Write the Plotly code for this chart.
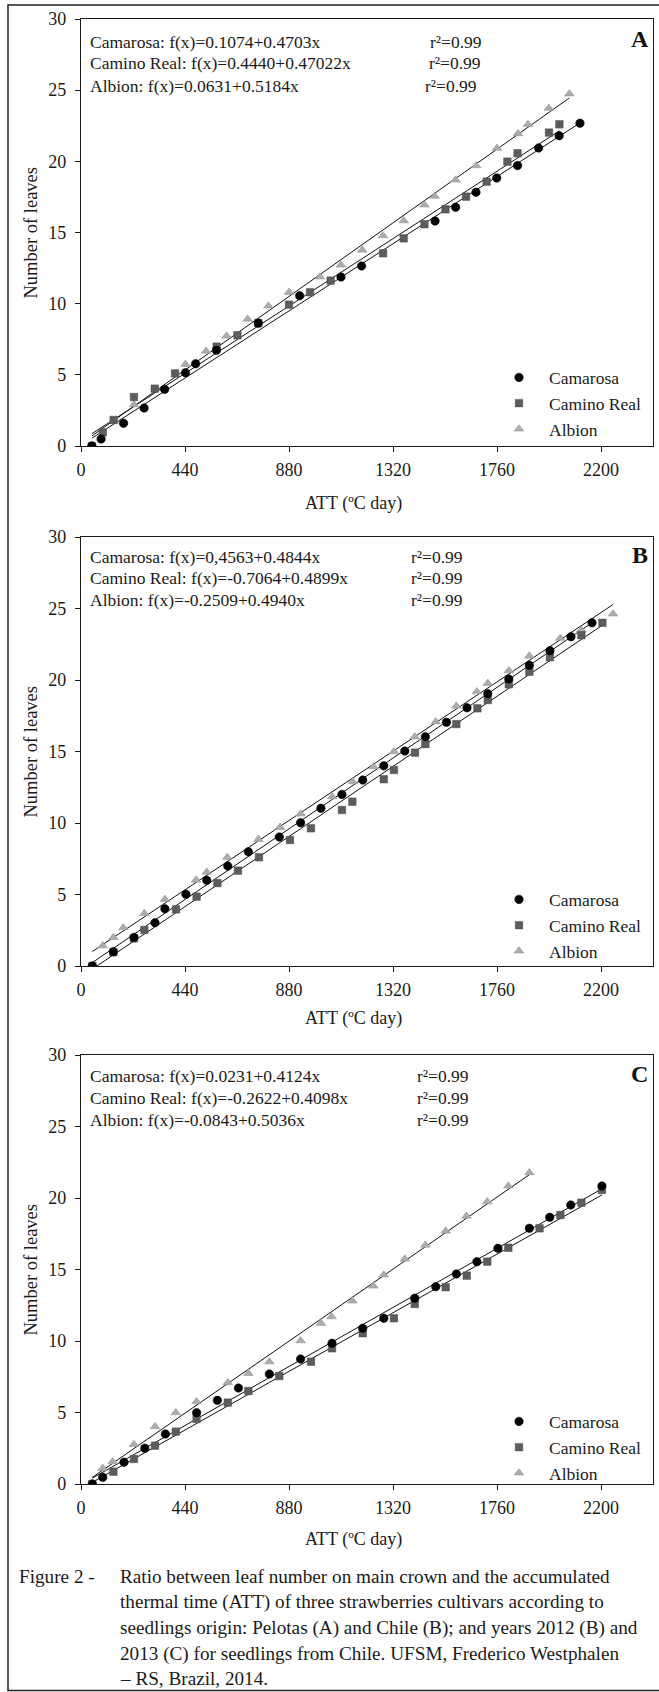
import numpy as np
import plotly.graph_objects as go

W, H = 659, 1692
FONT = "Liberation Serif, Times New Roman, serif"

# ---------------- data (ATT in degC day, number of leaves) ----------------
# Panel A
a_cam_x = [46, 85, 180, 267, 354, 442, 485, 573, 750, 925, 1100, 1187, 1498, 1585, 1671, 1759, 1847, 1936, 2023, 2111]
a_cam_y = [0, 0.49, 1.6, 2.67, 3.98, 5.15, 5.78, 6.72, 8.62, 10.56, 11.87, 12.65, 15.8, 16.77, 17.83, 18.83, 19.7, 20.94, 21.8, 22.68]
a_cr_x = [46, 92, 138, 224, 312, 398, 574, 662, 750, 880, 969, 1056, 1278, 1365, 1453, 1542, 1629, 1716, 1804, 1847, 1980, 2024]
a_cr_y = [0, 0.96, 1.83, 3.44, 4.03, 5.1, 6.98, 7.78, 8.65, 9.93, 10.8, 11.62, 13.54, 14.59, 15.58, 16.63, 17.52, 18.57, 19.98, 20.57, 22.02, 22.6]
a_alb_x = [46, 138, 224, 442, 529, 616, 705, 793, 880, 1011, 1100, 1190, 1278, 1365, 1453, 1496, 1585, 1672, 1760, 1849, 1891, 1979, 2066]
a_alb_y = [0, 1.8, 2.9, 5.74, 6.67, 7.73, 8.92, 9.84, 10.8, 11.88, 12.72, 13.77, 14.78, 15.83, 16.94, 17.55, 18.69, 19.7, 20.92, 21.95, 22.6, 23.73, 24.74]

# Panel B
b_cam_x = [48, 137, 224, 313, 355, 444, 532, 621, 708, 839, 929, 1015, 1104, 1192, 1281, 1370, 1457, 1546, 1633, 1721, 1810, 1897, 1984, 2073, 2162]
b_cam_y = [0, 1.0, 2.0, 3.03, 4.0, 5.01, 5.99, 6.99, 7.99, 9.02, 10.02, 11.03, 12.0, 13.0, 14.0, 15.03, 16.03, 17.04, 18.06, 19.04, 20.07, 21.03, 22.05, 23.03, 24.0]
b_cr_x = [48, 137, 224, 268, 402, 489, 577, 664, 753, 884, 973, 1104, 1148, 1281, 1324, 1413, 1457, 1588, 1677, 1721, 1810, 1897, 1984, 2117, 2206]
b_cr_y = [0, 0.96, 1.93, 2.52, 3.96, 4.85, 5.8, 6.67, 7.6, 8.81, 9.63, 10.91, 11.49, 13.06, 13.71, 14.92, 15.52, 16.92, 18.02, 18.6, 19.7, 20.58, 21.59, 23.13, 24.0]
b_alb_x = [48, 92, 137, 179, 268, 355, 487, 532, 619, 751, 842, 929, 1063, 1150, 1237, 1324, 1412, 1501, 1588, 1675, 1721, 1810, 1897, 2028, 2117, 2251]
b_alb_y = [0, 1.42, 2.0, 2.68, 3.68, 4.66, 6.01, 6.57, 7.6, 8.86, 9.7, 10.63, 11.84, 12.89, 13.94, 14.99, 16.03, 17.08, 18.18, 19.18, 19.77, 20.65, 21.68, 22.92, 23.5, 24.62]

# Panel C
c_cam_x = [48, 92, 182, 270, 357, 489, 577, 666, 797, 929, 1062, 1192, 1281, 1412, 1501, 1588, 1675, 1764, 1897, 1983, 2072, 2204]
c_cam_y = [0, 0.47, 1.52, 2.5, 3.5, 4.99, 5.85, 6.71, 7.69, 8.74, 9.84, 10.89, 11.59, 12.99, 13.8, 14.69, 15.55, 16.48, 17.88, 18.65, 19.51, 20.84]
c_cr_x = [48, 137, 224, 313, 401, 489, 621, 708, 839, 973, 1062, 1192, 1324, 1412, 1543, 1632, 1719, 1808, 1940, 2028, 2117, 2204]
c_cr_y = [0, 0.86, 1.75, 2.68, 3.66, 4.55, 5.69, 6.5, 7.55, 8.55, 9.49, 10.54, 11.59, 12.59, 13.76, 14.57, 15.55, 16.52, 17.88, 18.81, 19.67, 20.56]
c_alb_x = [48, 92, 134, 224, 313, 401, 489, 621, 708, 797, 929, 1015, 1060, 1148, 1237, 1281, 1370, 1457, 1543, 1631, 1719, 1808, 1897]
c_alb_y = [0, 1.1, 1.56, 2.77, 4.01, 4.99, 5.76, 7.09, 7.74, 8.55, 10.02, 11.24, 11.7, 12.8, 13.85, 14.62, 15.73, 16.71, 17.69, 18.74, 19.74, 20.84, 21.77]

series_names = ["Camarosa", "Camino Real", "Albion"]
panel_letters = ["A", "B", "C"]
equations = [
    ["Camarosa: f(x)=0.1074+0.4703x", "Camino Real: f(x)=0.4440+0.47022x", "Albion: f(x)=0.0631+0.5184x"],
    ["Camarosa: f(x)=0,4563+0.4844x", "Camino Real: f(x)=-0.7064+0.4899x", "Albion: f(x)=-0.2509+0.4940x"],
    ["Camarosa: f(x)=0.0231+0.4124x", "Camino Real: f(x)=-0.2622+0.4098x", "Albion: f(x)=-0.0843+0.5036x"],
]
r2_text = "r²=0.99"
x_ticks = [0, 440, 880, 1320, 1760, 2200]
y_ticks = [0, 5, 10, 15, 20, 25, 30]
x_title = "ATT (ºC day)"
y_title = "Number of leaves"
caption_head = "Figure 2 - "
caption_lines = [
    "Ratio between leaf number on main crown and the accumulated",
    "thermal time (ATT) of three strawberries cultivars according to",
    "seedlings origin: Pelotas (A) and Chile (B); and years 2012 (B) and",
    "2013 (C) for seedlings from Chile. UFSM, Frederico Westphalen",
    "– RS, Brazil, 2014.",
]

panels = [
    [(a_cam_x, a_cam_y), (a_cr_x, a_cr_y), (a_alb_x, a_alb_y)],
    [(b_cam_x, b_cam_y), (b_cr_x, b_cr_y), (b_alb_x, b_alb_y)],
    [(c_cam_x, c_cam_y), (c_cr_x, c_cr_y), (c_alb_x, c_alb_y)],
]

# ---------------- geometry (page pixels -> paper fractions) ----------------
def px(x):
    return x / W

def py(y):
    return 1 - y / H

plot_left, plot_right = 81, 653
tops = [19, 537, 1055]
bottoms = [446, 966, 1484]

styles = [
    dict(symbol="circle", size=8.5, color="#000000", line=dict(color="#000000", width=0.5)),
    dict(symbol="square", size=7.5, color="#5c5c5c", line=dict(color="#4a4a4a", width=0.5)),
    dict(symbol="triangle-up", size=8.5, color="#acacac", line=dict(color="#8e8e8e", width=0.5)),
]

fig = go.Figure()
legend_names = ["legend", "legend2", "legend3"]

for p, data in enumerate(panels):
    xa = "x" if p == 0 else f"x{p+1}"
    ya = "y" if p == 0 else f"y{p+1}"
    for (xs, ys) in data:
        xs_a = np.array(xs, float)
        ys_a = np.array(ys, float)
        b1, b0 = np.polyfit(xs_a, ys_a, 1)
        xl = np.array([xs_a.min(), xs_a.max()])
        fig.add_trace(go.Scatter(x=xl, y=b0 + b1 * xl, mode="lines",
                                 line=dict(color="#111111", width=1),
                                 showlegend=False, hoverinfo="skip",
                                 xaxis=xa, yaxis=ya))
    for idx in [2, 1, 0]:
        xs, ys = data[idx]
        fig.add_trace(go.Scatter(x=xs, y=ys, mode="markers", name=series_names[idx],
                                 marker=styles[idx], legend=legend_names[p],
                                 legendrank=idx + 1, xaxis=xa, yaxis=ya))

TXT = "#1a1a1a"
axis_font = dict(family=FONT, size=18, color=TXT)
layout = dict(
    width=W, height=H,
    margin=dict(l=0, r=0, t=0, b=0, autoexpand=False),
    paper_bgcolor="white", plot_bgcolor="white",
    font=dict(family=FONT, size=17, color=TXT),
    showlegend=True,
)

for p in range(3):
    xk = "xaxis" if p == 0 else f"xaxis{p+1}"
    yk = "yaxis" if p == 0 else f"yaxis{p+1}"
    ya = "y" if p == 0 else f"y{p+1}"
    xa = "x" if p == 0 else f"x{p+1}"
    layout[xk] = dict(domain=[px(plot_left), px(plot_right)], anchor=ya, automargin=False,
                      range=[0, 2420], tickvals=x_ticks, ticks="outside", ticklen=5,
                      tickcolor=TXT, showline=True, linecolor=TXT, linewidth=1.3,
                      mirror=True, showgrid=False, zeroline=False, tickfont=axis_font,
                      ticklabelstandoff=2)
    layout[yk] = dict(domain=[py(bottoms[p]), py(tops[p])], anchor=xa, automargin=False,
                      range=[0, 30], tickvals=y_ticks, ticks="outside", ticklen=5,
                      tickcolor=TXT, showline=True, linecolor=TXT, linewidth=1.3,
                      mirror=True, showgrid=False, zeroline=False, tickfont=axis_font,
                      ticklabelstandoff=5)

legend_top = [359.5, 881.5, 1403.5]
for p in range(3):
    layout[legend_names[p]] = dict(x=px(489), y=py(legend_top[p]), xanchor="left", yanchor="top",
                                   bgcolor="rgba(0,0,0,0)", font=dict(family=FONT, size=17.5, color=TXT),
                                   itemwidth=50, tracegroupgap=0)

fig.update_layout(**layout)

annotations = []
eq_rows = [[41.7, 63.3, 85.7], [556.7, 578.3, 600], [1076, 1097.7, 1120]]
r2_x = [[428, 427, 423.5], [409, 409, 409], [415, 415, 415]]
letter_pos = [(640, 39.5), (640, 555), (639, 1074)]
xtitle_y = [503, 1018, 1539]
for p in range(3):
    for i in range(3):
        annotations.append(dict(text=equations[p][i], x=px(88), y=py(eq_rows[p][i]), xref="paper", yref="paper",
                                xanchor="left", yanchor="middle", showarrow=False,
                                font=dict(family=FONT, size=17.5, color=TXT)))
        annotations.append(dict(text=r2_text, x=px(r2_x[p][i]), y=py(eq_rows[p][i]), xref="paper", yref="paper",
                                xanchor="left", yanchor="middle", showarrow=False,
                                font=dict(family=FONT, size=17.5, color=TXT)))
    annotations.append(dict(text="<b>" + panel_letters[p] + "</b>", x=px(letter_pos[p][0]), y=py(letter_pos[p][1]),
                            xref="paper", yref="paper", xanchor="center", yanchor="middle", showarrow=False,
                            font=dict(family=FONT, size=24, color="#111111")))
    annotations.append(dict(text=x_title, x=px(353), y=py(xtitle_y[p]), xref="paper", yref="paper",
                            xanchor="center", yanchor="middle", showarrow=False,
                            font=dict(family=FONT, size=18, color=TXT)))
    annotations.append(dict(text=y_title, x=px(30), y=py((tops[p] + bottoms[p]) / 2), xref="paper", yref="paper",
                            xanchor="center", yanchor="middle", showarrow=False, textangle=-90,
                            font=dict(family=FONT, size=18.5, color=TXT)))

cap_y = [1576, 1602, 1628, 1653.5, 1678]
annotations.append(dict(text=caption_head, x=px(17), y=py(cap_y[0]), xref="paper", yref="paper",
                        xanchor="left", yanchor="middle", showarrow=False,
                        font=dict(family=FONT, size=19.2, color=TXT)))
for i, line in enumerate(caption_lines):
    annotations.append(dict(text=line, x=px(118), y=py(cap_y[i]), xref="paper", yref="paper",
                            xanchor="left", yanchor="middle", showarrow=False,
                            font=dict(family=FONT, size=19.2, color=TXT)))

fig.update_layout(annotations=annotations)

# outer frame of the figure (right side runs off the page)
fig.add_shape(type="rect", xref="paper", yref="paper", x0=px(8), x1=1.2, y0=py(1690.5), y1=py(5),
              line=dict(color="#222222", width=1.5), fillcolor="rgba(0,0,0,0)", layer="below")

# pin the graph to the page origin so that page pixels equal figure pixels
pin = ("document.body.style.margin='0';document.body.style.padding='0';"
       "document.body.style.overflow='hidden';"
       "var d=document.getElementById('{plot_id}');"
       "d.style.position='absolute';d.style.left='0px';d.style.top='0px';")

fig.write_html("out.html", post_script=pin, config={"displayModeBar": False})
